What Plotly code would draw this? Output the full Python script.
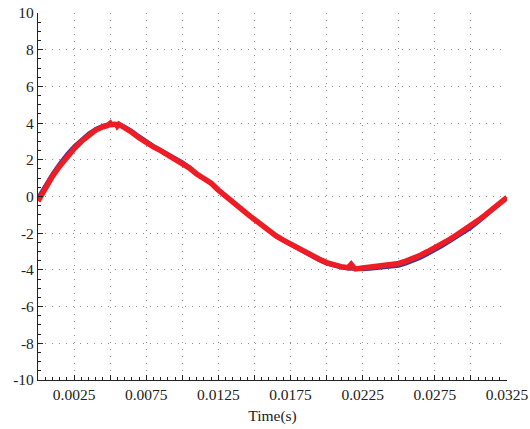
import plotly.graph_objects as go

# Blue (reference) signal
t_blue = [0.0, 0.0005, 0.001, 0.0015, 0.002, 0.0025, 0.003, 0.0035, 0.004, 0.0045,
          0.005, 0.0055, 0.006, 0.0065, 0.007, 0.0075, 0.008, 0.0085, 0.009, 0.0095,
          0.01, 0.0105, 0.011, 0.0115, 0.012, 0.0125, 0.013, 0.0135, 0.014, 0.0145,
          0.015, 0.0155, 0.016, 0.0165, 0.017, 0.0175, 0.018, 0.0185, 0.019, 0.0195,
          0.02, 0.0205, 0.021, 0.0215, 0.022, 0.0225, 0.023, 0.0235, 0.024, 0.0245,
          0.025, 0.0255, 0.026, 0.0265, 0.027, 0.0275, 0.028, 0.0285, 0.029, 0.0295,
          0.03, 0.0305, 0.031, 0.0315, 0.032, 0.0325]
v_blue = [0.0, 0.68, 1.3, 1.85, 2.35, 2.78, 3.15, 3.48, 3.73, 3.9,
          3.99, 3.98, 3.85, 3.62, 3.33, 3.05, 2.8, 2.57, 2.36, 2.15,
          1.92, 1.64, 1.32, 1.0, 0.66, 0.33, 0.0, -0.3, -0.6, -0.92,
          -1.25, -1.6, -1.92, -2.2, -2.45, -2.67, -2.9, -3.1, -3.32, -3.52,
          -3.7, -3.82, -3.91, -3.96, -4.0, -4.0, -3.98, -3.95, -3.92, -3.88,
          -3.82, -3.7, -3.55, -3.38, -3.18, -2.97, -2.75, -2.5, -2.25, -2.0,
          -1.76, -1.45, -1.12, -0.8, -0.45, -0.12]

t_red = [0.0, 0.0005, 0.001, 0.0015, 0.002, 0.0025, 0.003, 0.0035, 0.004, 0.0045,
         0.0048, 0.005, 0.0051, 0.0052, 0.0053, 0.0054, 0.0055, 0.0056, 0.0058,
         0.006, 0.0065, 0.007, 0.0075, 0.008, 0.0085, 0.009, 0.0095,
         0.01, 0.0105, 0.011, 0.0115, 0.012, 0.0125, 0.013, 0.0135, 0.014, 0.0145,
         0.015, 0.0155, 0.016, 0.0165, 0.017, 0.0175, 0.018, 0.0185, 0.019, 0.0195,
         0.02, 0.0205, 0.021, 0.0215, 0.0217, 0.0219, 0.022, 0.0225, 0.023, 0.0235, 0.024, 0.0245,
         0.025, 0.0255, 0.026, 0.0265, 0.027, 0.0275, 0.028, 0.0285, 0.029, 0.0295,
         0.03, 0.0305, 0.031, 0.0315, 0.032, 0.0325]
v_red = [-0.25, 0.45, 1.1, 1.65, 2.15, 2.6, 3.0, 3.35, 3.62, 3.8,
         3.86, 3.98, 3.84, 4.02, 3.86, 4.0, 3.85, 3.94, 3.86,
         3.75, 3.5, 3.2, 2.93, 2.7, 2.5, 2.28, 2.05,
         1.82, 1.55, 1.22, 0.98, 0.72, 0.35, 0.0, -0.32, -0.62, -0.95,
         -1.25, -1.55, -1.88, -2.15, -2.38, -2.6, -2.82, -3.02, -3.22, -3.42,
         -3.6, -3.72, -3.82, -3.88, -3.7, -3.9, -3.95, -3.9, -3.85, -3.82, -3.78, -3.72,
         -3.65, -3.52, -3.38, -3.2, -3.0, -2.8, -2.58, -2.35, -2.1, -1.85,
         -1.6, -1.3, -1.0, -0.68, -0.35, -0.05]

x_tickvals = [0.0025, 0.005, 0.0075, 0.01, 0.0125, 0.015, 0.0175, 0.02, 0.0225,
              0.025, 0.0275, 0.03, 0.0325]
x_ticktext = ["0.0025", "", "0.0075", "", "0.0125", "", "0.0175", "", "0.0225",
              "", "0.0275", "", "0.0325"]
y_tickvals = [-10, -8, -6, -4, -2, 0, 2, 4, 6, 8, 10]
y_ticktext = ["-10", "-8", "-6", "-4", "-2", "0", "2", "4", "6", "8", "10"]

fig = go.Figure()
fig.add_trace(go.Scatter(x=t_blue, y=v_blue, mode="lines",
                         line=dict(color="#3a3a9c", width=2.5), showlegend=False))
fig.add_trace(go.Scatter(x=t_red, y=v_red, mode="lines",
                         line=dict(color="#ee1c24", width=5.5), showlegend=False))

font = dict(family="'Times New Roman', 'Liberation Serif', serif", size=15.5, color="#222")
grid = dict(showgrid=True, gridcolor="#8c8c8c", griddash="1px,6px", gridwidth=1)
fig.update_layout(
    width=530, height=429,
    margin=dict(l=38, r=23, t=13, b=49),
    plot_bgcolor="white", paper_bgcolor="white",
    font=font,
    xaxis=dict(range=[0, 0.0325], tickmode="array", tickvals=x_tickvals, ticktext=x_ticktext,
               showline=True, linecolor="#222", linewidth=1.2, automargin=False,
               ticks="inside", ticklen=5, tickcolor="#222", tickfont=font,
               minor=dict(ticks="inside", ticklen=3, dtick=0.0005, tick0=0, tickcolor="#222", showgrid=False),
               zeroline=False, title=dict(text="Time(s)", font=font, standoff=8), **grid),
    yaxis=dict(range=[-10, 10], tickmode="array", tickvals=y_tickvals, ticktext=y_ticktext,
               showline=True, linecolor="#222", linewidth=1.2, automargin=False,
               ticks="inside", ticklen=5, tickcolor="#222", tickfont=font,
               minor=dict(ticks="inside", ticklen=3, dtick=0.5, tick0=0, tickcolor="#222", showgrid=False),
               zeroline=False, **grid),
)
fig.write_html("out.html")
